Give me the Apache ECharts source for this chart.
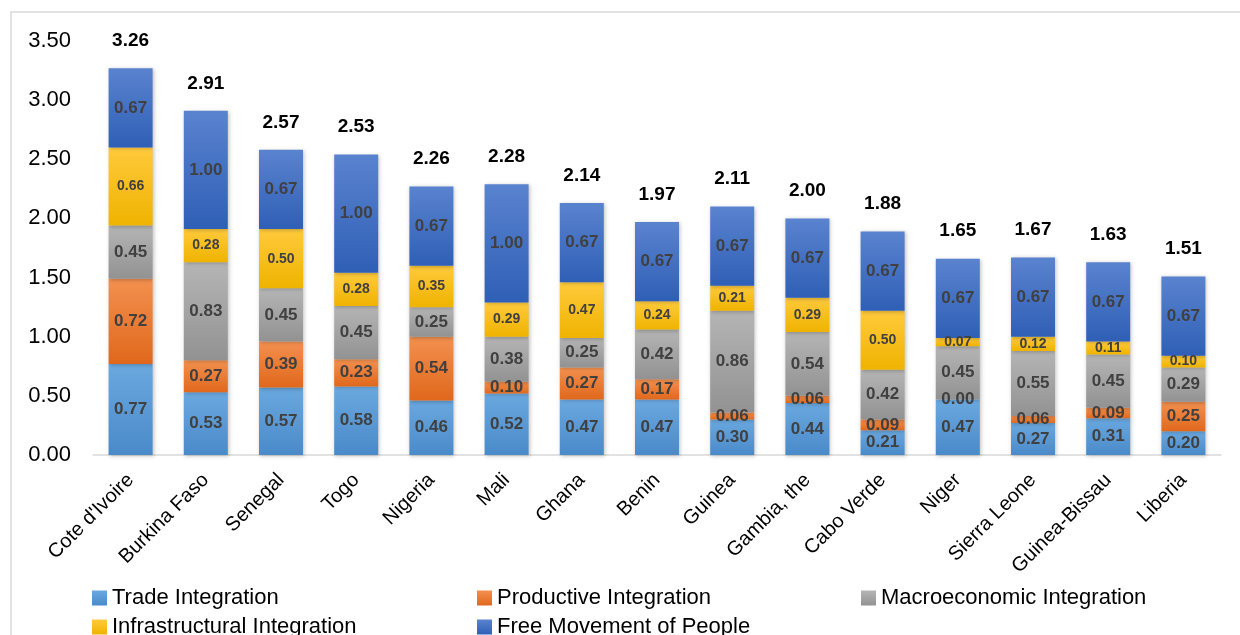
<!DOCTYPE html>
<html>
<head>
<meta charset="utf-8">
<script src="https://cdn.jsdelivr.net/npm/echarts@6/dist/echarts.min.js"></script>
<style>
  html, body { margin: 0; padding: 0; background: #fff; }
  #chart { width: 1240px; height: 635px; }
</style>
</head>
<body>
<div id="chart"></div>
<script>
  // categories and values
  var countries = ["Cote d'Ivoire", 'Burkina Faso', 'Senegal', 'Togo', 'Nigeria', 'Mali', 'Ghana',
    'Benin', 'Guinea', 'Gambia, the', 'Cabo Verde', 'Niger', 'Sierra Leone', 'Guinea-Bissau', 'Liberia'];
  var trade        = [0.77, 0.53, 0.57, 0.58, 0.46, 0.52, 0.47, 0.47, 0.30, 0.44, 0.21, 0.47, 0.27, 0.31, 0.20];
  var productive   = [0.72, 0.27, 0.39, 0.23, 0.54, 0.10, 0.27, 0.17, 0.06, 0.06, 0.09, 0.00, 0.06, 0.09, 0.25];
  var macro        = [0.45, 0.83, 0.45, 0.45, 0.25, 0.38, 0.25, 0.42, 0.86, 0.54, 0.42, 0.45, 0.55, 0.45, 0.29];
  var infra        = [0.66, 0.28, 0.50, 0.28, 0.35, 0.29, 0.47, 0.24, 0.21, 0.29, 0.50, 0.07, 0.12, 0.11, 0.10];
  var freeMovement = [0.67, 1.00, 0.67, 1.00, 0.67, 1.00, 0.67, 0.67, 0.67, 0.67, 0.67, 0.67, 0.67, 0.67, 0.67];
  var totals       = [3.26, 2.91, 2.57, 2.53, 2.26, 2.28, 2.14, 1.97, 2.11, 2.00, 1.88, 1.65, 1.67, 1.63, 1.51];
  var yTicks = [0, 0.5, 1, 1.5, 2, 2.5, 3, 3.5];

  var FONT = '"Liberation Sans", Arial, sans-serif';

  function grad(top, bottom) {
    return new echarts.graphic.LinearGradient(0, 0, 0, 1, [
      { offset: 0, color: top },
      { offset: 1, color: bottom }
    ]);
  }

  function part(name, data, top, bottom, labelSize) {
    return {
      name: name,
      type: 'bar',
      stack: 'total',
      barWidth: 44,
      data: data,
      itemStyle: {
        color: grad(top, bottom),
        shadowBlur: 4,
        shadowColor: 'rgba(0,0,0,0.25)',
        shadowOffsetX: 1,
        shadowOffsetY: 1
      },
      label: {
        show: true,
        position: 'inside',
        color: '#404040',
        fontFamily: FONT,
        fontWeight: 'bold',
        fontSize: labelSize,
        formatter: function (p) { return p.value.toFixed(2); }
      }
    };
  }

  function legendAt(name, left, top) {
    return {
      data: [{ name: name, icon: 'rect' }],
      left: left,
      top: top,
      itemWidth: 15,
      itemHeight: 15,
      selectedMode: false,
      textStyle: { fontFamily: FONT, fontSize: 22, color: '#000' }
    };
  }

  var chart = echarts.init(document.getElementById('chart'));
  chart.setOption({
    animation: false,
    graphic: [{
      type: 'rect',
      shape: { x: 11, y: 12, width: 1300, height: 700 },
      style: { fill: 'none', stroke: '#d9d9d9', lineWidth: 1.5 },
      silent: true
    }],
    legend: [
      legendAt('Trade Integration', 87, 582),
      legendAt('Productive Integration', 472, 582),
      legendAt('Macroeconomic Integration', 856, 582),
      legendAt('Infrastructural Integration', 87, 611),
      legendAt('Free Movement of People', 472, 611)
    ],
    grid: { left: 93, right: 19, top: 41, bottom: 180, containLabel: false },
    xAxis: {
      type: 'category',
      data: countries,
      axisLine: { lineStyle: { color: '#d9d9d9', width: 1.5 } },
      axisTick: { show: false },
      axisLabel: {
        rotate: 45,
        interval: 0,
        margin: 22,
        color: '#000',
        fontFamily: FONT,
        fontSize: 20
      }
    },
    yAxis: {
      type: 'value',
      min: yTicks[0],
      max: yTicks[yTicks.length - 1],
      interval: 0.5,
      splitLine: { show: false },
      axisLine: { show: false },
      axisTick: { show: false },
      axisLabel: {
        margin: 22,
        color: '#000',
        fontFamily: FONT,
        fontSize: 22,
        formatter: function (v) { return v.toFixed(2); }
      }
    },
    series: [
      part('Trade Integration', trade, '#6aa8df', '#4a8ac9', 17),
      part('Productive Integration', productive, '#f3904f', '#e0681c', 17),
      part('Macroeconomic Integration', macro, '#b5b5b5', '#929292', 17),
      part('Infrastructural Integration', infra, '#ffca3c', '#efb300', 14),
      part('Free Movement of People', freeMovement, '#5a83cf', '#2f5fb6', 17),
      {
        name: 'Total',
        type: 'bar',
        stack: 'total',
        barWidth: 44,
        data: totals.map(function () { return 0; }),
        itemStyle: { color: 'rgba(0,0,0,0)' },
        label: {
          show: true,
          position: 'top',
          distance: 18,
          color: '#000',
          fontFamily: FONT,
          fontWeight: 'bold',
          fontSize: 19,
          formatter: function (p) { return totals[p.dataIndex].toFixed(2); }
        }
      }
    ]
  });
</script>
</body>
</html>
